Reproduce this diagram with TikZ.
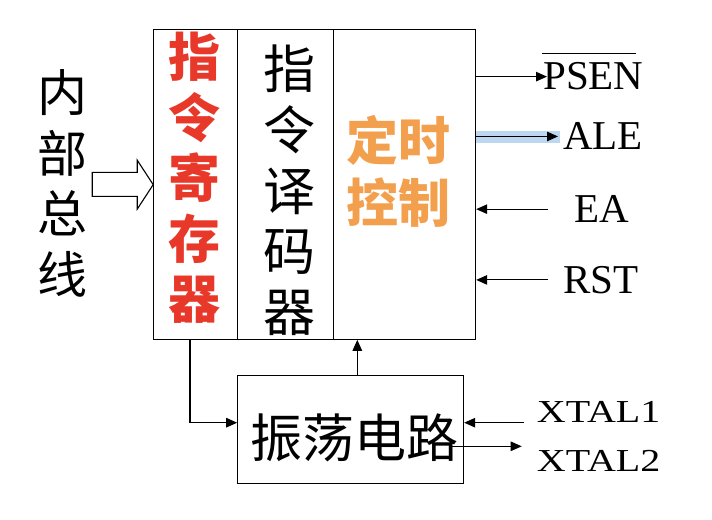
\documentclass[tikz,border=0pt]{standalone}
\usepackage{fontspec}
\setmainfont{Liberation Serif}
\newfontfamily\cjk{Noto Sans CJK SC}
\usetikzlibrary{arrows.meta}
\definecolor{irred}{RGB}{232,56,42}
\definecolor{tcorange}{RGB}{243,160,78}
\definecolor{hlblue}{RGB}{189,215,240}
\begin{document}
\begin{tikzpicture}[x=1bp,y=-1bp,
  box/.style={draw, line width=1bp, inner sep=0pt},
  conn/.style={line width=1.1bp, -{Triangle[length=11bp,width=9.5bp]}},
  sig/.style={inner sep=0pt, anchor=base west, font=\fontsize{41bp}{49bp}\selectfont},
  cjktxt/.style={inner sep=0pt, align=center, font=\cjk\fontsize{52bp}{60.6bp}\selectfont}]
\useasboundingbox (0,0) rectangle (712,520);
% main blocks
\node[box, minimum width=84bp, minimum height=309.3bp] (ir) at (195.7,184.65) {};
\node[box, minimum width=95.3bp, minimum height=309.3bp] (id) at (285.35,184.65) {};
\node[box, minimum width=142.7bp, minimum height=309.3bp] (tc) at (404.35,184.65) {};
\node[box, minimum width=226bp, minimum height=107.6bp] (osc) at (350.7,429.5) {};
% texts
\node[cjktxt, font=\cjk\fontsize{50bp}{60.5bp}\selectfont] (bus) at (62.5,183.3) {内\\部\\总\\线};
\node[cjktxt, text=irred, font=\cjk\bfseries\fontsize{52bp}{60.6bp}\selectfont] (irt) at (194,177.9) {指\\令\\寄\\存\\器};
\node[cjktxt] (idt) at (289,190.3) {指\\令\\译\\码\\器};
\node[cjktxt, text=tcorange, font=\cjk\bfseries\fontsize{52bp}{62bp}\selectfont] (tct) at (398,171.6) {定时\\控制};
\node[cjktxt] (osct) at (354,437.5) {振荡电路};
% signals
\node[sig] (psen) at (543,90) {PSEN};
\draw[line width=1.2bp] ([yshift=9.4bp,xshift=-1bp]psen.north west) -- ([yshift=9.4bp,xshift=-8bp]psen.north east);
\node[sig] (ale) at (563,150) {ALE};
\node[sig] (ea) at (574,222.7) {EA};
\node[sig] (rst) at (563,293.3) {RST};
\node[sig, font=\fontsize{32bp}{38bp}\selectfont] (x1) at (536.7,422.7) {\scalebox{1.25}[1]{XTAL1}};
\node[sig, font=\fontsize{32bp}{38bp}\selectfont] (x2) at (536.7,471) {\scalebox{1.25}[1]{XTAL2}};
% hollow bus arrow
\draw[line width=1.1bp] (ir.west) -- ++(-16,-24.5) -- ++(0,12.3) -- ++(-45,0) -- ++(0,24) -- ++(45,0) -- ++(0,12.7) -- cycle;
% ALE highlight
\fill[hlblue] (tc.east |- 0,130.7) rectangle (560,143.3);
% connectors
\draw[conn] (psen.west -| tc.east) -- ([xshift=4bp]psen.west);
\draw[conn] (ale.west -| tc.east) -- ([xshift=-5bp]ale.west);
\draw[conn] ([xshift=-26bp]ea.west) -- (ea.west -| tc.east);
\draw[conn] ([xshift=-15bp]rst.west) -- (rst.west -| tc.east);
\draw[conn] ([xshift=-12.7bp]x1.base west) -- (x1.base west -| osc.east);
\draw[conn] ([xshift=-15bp,yshift=3.3bp]x2.north west -| osc.east) -- ([xshift=-15bp,yshift=3.3bp]x2.north west);
\draw[conn] ([xshift=-5.7bp]ir.south) |- ([yshift=6.8bp]osc.west);
\draw[conn] ([xshift=6.6bp]osc.north) -- ([xshift=6.6bp]osc.north |- tc.south);
\end{tikzpicture}
\end{document}
